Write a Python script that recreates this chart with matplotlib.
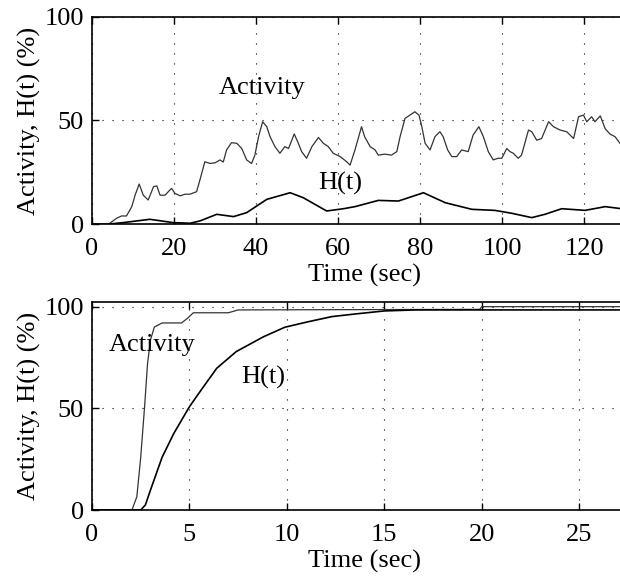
import matplotlib as mpl
mpl.use('Agg')
import matplotlib.pyplot as plt

# top panel: long run (0..130 s)
act_t = [0, 4, 6, 7.2, 8.4, 9.7, 10.5, 11.5, 12.5, 13.7, 15, 15.8, 16.6, 17.8, 18.6, 19.4,
         20.2, 21.5, 22.7, 23.9, 25.5, 26.3, 27.5, 28.8, 30, 31.2, 32, 32.8, 34, 35.3, 36.5,
         37.7, 38.9, 39.7, 40.6, 41.6, 42.6, 43.4, 44.6, 45.8, 47, 47.9, 49.3, 50.3, 51.1,
         52.3, 53.6, 55.2, 56.4, 57.6, 58.8, 60.5, 62.1, 62.9, 64.1, 65.7, 66.5, 67.8, 69,
         69.8, 71.4, 73, 74.3, 75.1, 76.3, 77.5, 78.7, 79.7, 80.4, 81.2, 82.4, 83.6, 84.8,
         85.6, 86.7, 87.7, 88.9, 90.1, 91.7, 92.9, 94.3, 95.4, 96.6, 97.8, 99, 99.9, 101.1,
         101.9, 102.7, 103.9, 104.7, 106.4, 107.2, 108.4, 109.6, 111.3, 112.5, 114.1, 115.7,
         117.4, 118.6, 119.8, 120.6, 121.8, 122.6, 123.9, 125.1, 126.3, 127.5, 128.7, 130]
act_v = [0, 0, 2.9, 4, 4, 8.5, 14, 19.4, 14, 11.7, 18.1, 18.5, 14, 14, 15.7, 17.3,
         14.9, 13.7, 14.5, 14.5, 15.7, 21.3, 30.1, 29.3, 29.6, 31, 30, 35.8, 39.3, 39, 36.5,
         31, 29.3, 33.3, 42.2, 49.4, 47, 42.2, 37.4, 34.2, 37.4, 36.5, 43.5, 39, 35,
         31.8, 37.4, 41.8, 39, 37.4, 34.2, 32.6, 30.1, 28.5, 35.8, 47, 42, 37.4, 35.8,
         33.3, 33.8, 33.3, 35, 42.2, 51, 52.6, 54.2, 52.6, 47, 39, 35.8, 42.2, 44.6,
         42.2, 35.8, 32.6, 32.6, 35.8, 35, 43, 47, 42.2, 35, 31, 31.8, 31.8, 36.5,
         35, 34.2, 31.8, 33.3, 45.4, 44.6, 40.5, 41.3, 49.4, 47, 45.4, 44.6,
         41.3, 51.8, 52.6, 49.4, 51.8, 49.4, 52.2, 46, 43.4, 42.2, 39, 38]
h_t = [0, 3.6, 7.6, 14.1, 19.8, 23.9, 26.3, 30.4, 34.5, 37.7, 42.6, 48.3, 51.5, 57.2,
       61.3, 64.1, 69.8, 74.7, 80.8, 86.1, 92.6, 98.2, 102.3, 107.2, 110.4, 114.5, 120.2,
       125.1, 129.1, 130]
h_v = [0, 0, 0.8, 2.4, 0.8, 0.5, 1.6, 4.8, 3.7, 5.6, 12, 15.2, 12.8, 6.4,
       7.5, 8.5, 11.5, 11.2, 15.2, 10.4, 7.2, 6.7, 5.3, 3.2, 4.8, 7.5, 6.7,
       8.5, 7.5, 7.5]

# bottom panel: first 28 s
act2_t = [0, 2.05, 2.3, 2.5, 2.7, 2.85, 3.0, 3.2, 3.6, 4.6, 4.9, 5.2, 7.0, 7.5, 19.9, 20.0, 28]
act2_v = [0, 0, 6.5, 26, 51, 72, 83.6, 90, 92, 92, 94.3, 97, 97, 98.4, 98.7, 100, 100]
h2_t = [0, 2.5, 2.74, 3.0, 3.6, 4.2, 5.0, 5.6, 6.4, 7.4, 8.8, 9.9, 11.1, 12.3, 13.5, 15,
        16.6, 28]
h2_v = [0, 0, 2.5, 9.8, 26, 37.7, 50.8, 59, 69.7, 77.9, 85.2, 89.9, 92.6, 95.1, 96.4, 97.9,
        98.4, 98.4]

plt.rcParams['font.family'] = 'Liberation Serif'
FS = 19

fig = plt.figure(figsize=(6.2, 5.83), dpi=100)
ax1 = fig.add_axes([0.1484, 0.6153, 0.88, 0.3561])
ax2 = fig.add_axes([0.1484, 0.1252, 0.88, 0.3568])

def style(ax):
    ax.tick_params(direction='in', top=True, right=True, length=5, labelsize=FS, width=1)
    ax.tick_params(axis='x', pad=10)
    ax.tick_params(axis='y', pad=6)
    ax.grid(True, color='black', linestyle=(0, (1, 8)), linewidth=0.8)
    for s in ax.spines.values():
        s.set_linewidth(1.2)
    ax.set_xlabel('Time (sec)', fontsize=FS, labelpad=3)
    ax.set_ylabel('Activity, H(t) (%)', fontsize=FS, labelpad=2)

ax1.plot(act_t, act_v, color='#333333', lw=0.9)
ax1.plot(h_t, h_v, color='black', lw=1.2)
ax1.set_xlim(0, 133)
ax1.set_ylim(0, 100)
ax1.set_xticks([0, 20, 40, 60, 80, 100, 120])
ax1.set_yticks([0, 50, 100])
ax1.text(41.5, 65.5, 'Activity', fontsize=FS, ha='center', va='center')
ax1.text(60.5, 19.5, 'H(t)', fontsize=FS, ha='center', va='center')
style(ax1)

ax2.plot(act2_t, act2_v, color='#333333', lw=0.9)
ax2.plot(h2_t, h2_v, color='black', lw=1.2)
ax2.set_xlim(0, 28)
ax2.set_ylim(0, 102.3)
ax2.set_xticks([0, 5, 10, 15, 20, 25])
ax2.set_yticks([0, 50, 100])
ax2.text(3.1, 81, 'Activity', fontsize=FS, ha='center', va='center')
ax2.text(8.8, 65, 'H(t)', fontsize=FS, ha='center', va='center')
style(ax2)

fig.savefig('out.png', dpi=100)
plt.close(fig)
